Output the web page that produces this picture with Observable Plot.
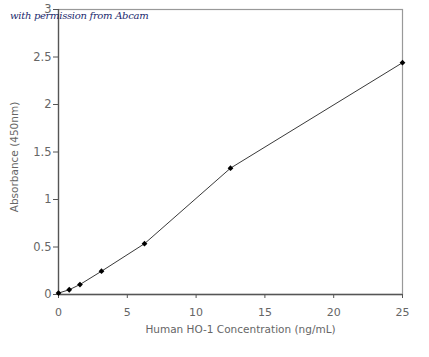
<!DOCTYPE html>
<html>
<head>
<meta charset="utf-8">
<script src="https://cdn.jsdelivr.net/npm/d3@7"></script>
<script src="https://cdn.jsdelivr.net/npm/@observablehq/plot@0.6"></script>
<style>
  html, body { margin: 0; padding: 0; background: #fff; }
  #wrap { position: relative; width: 429px; height: 357px; }
  #note { position: absolute; left: 10px; top: 10px; font-family: "DejaVu Serif", serif; font-style: italic; font-size: 10px; color: #1c2a6e; letter-spacing: -0.3px; z-index: 2; }
</style>
</head>
<body>
<div id="wrap">
  <div id="note">with permission from Abcam</div>
  <div id="chart"></div>
</div>
<script>
const concentration = [0, 0.78, 1.56, 3.125, 6.25, 12.5, 25];
const absorbance = [0.015, 0.05, 0.105, 0.245, 0.535, 1.33, 2.44];
const xTicks = [0, 5, 10, 15, 20, 25];
const yTicks = [0, 0.5, 1, 1.5, 2, 2.5, 3];
const xLabel = "Human HO-1 Concentration (ng/mL)";
const yLabel = "Absorbance (450nm)";

const data = concentration.map((c, i) => ({c, a: absorbance[i]}));
const fmt = d => String(d);

const chart = Plot.plot({
  width: 429,
  height: 357,
  marginLeft: 58,
  marginRight: 27,
  marginTop: 9,
  marginBottom: 63,
  style: {fontFamily: "DejaVu Sans, sans-serif", fontSize: "11px", color: "#666", background: "#fff"},
  x: {domain: [0, 25], label: null},
  y: {domain: [0, 3], label: null},
  marks: [
    Plot.frame({stroke: "#999", strokeWidth: 1.2}),
    Plot.axisX({ticks: xTicks, tickSize: 4, tickPadding: 10, stroke: "#555", fill: "#666", label: null, tickFormat: fmt, letterSpacing: 1.5, fontSize: 11}),
    Plot.axisY({ticks: yTicks, tickSize: 5, tickPadding: 2, stroke: "#555", fill: "#666", label: null, tickFormat: fmt, fontSize: 11.5}),
    Plot.ruleY([0], {stroke: "#555", strokeWidth: 1.3}),
    Plot.ruleX([0], {stroke: "#555", strokeWidth: 1.3}),
    Plot.line(data, {x: "c", y: "a", stroke: "#222", strokeWidth: 0.9}),
    Plot.dot(data, {x: "c", y: "a", symbol: "diamond2", r: 2.6, fill: "#000", stroke: "none"}),
    Plot.text([xLabel], {frameAnchor: "bottom", dx: 10, dy: 38, fill: "#666", fontSize: 10.5}),
    Plot.text([yLabel], {frameAnchor: "left", dx: -44, dy: 5, rotate: -90, textAnchor: "middle", fill: "#666", fontSize: 10.5})
  ]
});
document.getElementById("chart").appendChild(chart);
</script>
</body>
</html>
